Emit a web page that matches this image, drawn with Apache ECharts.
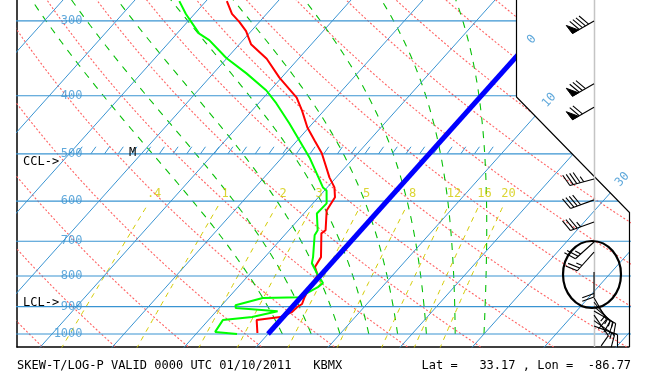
<!DOCTYPE html>
<html><head><meta charset="utf-8">
<script src="https://cdn.jsdelivr.net/npm/echarts@6/dist/echarts.min.js"></script>
<style>html,body{margin:0;padding:0;background:#fff}#c{width:664px;height:382px}</style>
</head><body><div id="c"></div>
<script>
// ---------------- data ----------------
const isobarP = [300, 400, 500, 600, 700, 800, 900, 1000];
const isobarLabels = ['300', '400', '500', '600', '700', '800', '900', '1000'];

// temperature sounding (hPa, degC), surface upward
const tempP = [996, 948, 937, 919, 902, 891, 868, 855, 798, 773, 744, 679, 671, 622, 591, 569, 548, 499, 475, 452, 424, 403, 373, 347, 328, 312, 301, 292, 278];
const tempT = [-1.6, -3.3, -0.4, 0.6, 0.7, 1.0, 0.5, 0.3, -0.4, -1.8, -2.2, -5.1, -4.9, -7.2, -7.7, -9.0, -10.9, -15.0, -17.6, -20.2, -23.0, -25.4, -30.3, -34.4, -38.4, -40.7, -42.8, -44.8, -47.1];

// dewpoint sounding (hPa, degC)
const dewP = [1000, 992, 948, 937, 916, 905, 895, 871, 868, 835, 822, 791, 762, 744, 684, 671, 629, 605, 576, 569, 507, 475, 445, 412, 392, 367, 346, 323, 315, 292, 278];
const dewT = [-4.3, -7.6, -8.0, -4.3, -1.5, -7.7, -8.1, -5.2, -0.2, 1.1, 1.3, -0.8, -2.7, -3.3, -5.8, -6.0, -8.2, -8.1, -9.7, -10.6, -16.2, -19.7, -23.2, -27.5, -30.5, -35.4, -40.1, -44.7, -46.9, -51.2, -53.7];

// wind barbs (hPa, direction deg, speed kt)
const windP   = [300, 382, 418, 551, 597, 650, 702, 730, 788, 870, 885, 900, 915, 930, 950, 970];
const windDir = [240, 240, 240, 255, 250, 250, 228, 222, 180, 150, 140, 130, 120, 145, 125, 110];
const windSpd = [90, 80, 70, 45, 40, 35, 25, 25, 20, 15, 15, 15, 15, 10, 15, 10];

const isothermTemps = [];
for (let t = -110; t <= 50; t += 10) isothermTemps.push(t);
const dryThetas = [];
for (let th = 230; th <= 400; th += 10) dryThetas.push(th);
const moistThetaW = [2, 6, 10, 14, 18, 22, 26, 30];
const mixRatios = [0.4, 1, 2, 3, 5, 8, 12, 16, 20];
const mixLabels = ['.4', '1', '2', '3', '5', '8', '12', '16', '20'];
const isothermLabelT = [0, 10, 30];
const isothermLabelP = [322, 407, 552];
const isothermLabelText = ['0', '10', '30'];

// ---------------- geometry of the skew-T ----------------
const S = 32.33;                        // skew (degC per ln-p unit)
const Yp = p => Math.log(1000 / p);
const sk = (p, T) => [T + S * Yp(p), Yp(p)];
const xMin = -34.86, xMax = 50.14, yMin = -0.05, yMax = 1.2846;
const barbX = 45.28, isobarLabelX = -25.69;

function es(Tc) { return 6.112 * Math.exp(17.67 * Tc / (Tc + 243.5)); }
function moistGrad(p, TK) {
  const e = es(TK - 273.15), rs = 0.622 * e / (p - e);
  return (287.04 * TK + 2.501e6 * rs) / (1005.7 + 2.501e6 * 2.501e6 * rs * 0.622 / (287.04 * TK * TK)) / p;
}
function moistLine(tw) {
  let p = 1000, T = tw + 273.15; const out = [sk(p, T - 273.15)];
  const dp = -5;
  while (p > 270) {
    const k1 = moistGrad(p, T);
    const k2 = moistGrad(p + dp, T + k1 * dp);
    T += 0.5 * (k1 + k2) * dp; p += dp;
    out.push(sk(p, T - 273.15));
  }
  return out;
}
function dryLine(th) {
  const out = [];
  for (let p = 1060; p >= 270; p -= 10) out.push(sk(p, th * Math.pow(p / 1000, 0.2857) - 273.15));
  return out;
}
function mixTd(w, p) {
  const e = (w / 1000) * p / (0.622 + w / 1000);
  const l = Math.log(e / 6.112);
  return 243.5 * l / (17.67 - l);
}
function mixLine(w) {
  const out = [];
  for (let p = 1060; p >= 610; p -= 10) out.push(sk(p, mixTd(w, p)));
  return out;
}

const series = [];
function ln(data, color, width, type, z) {
  series.push({ type: 'line', data, symbol: 'none', silent: true, animation: false, z: z || 2, clip: true,
    lineStyle: { color, width, type: type || 'solid' } });
}
const BLUE = '#3a94d2';
isobarP.forEach(p => ln([[xMin - 5, Yp(p)], [xMax + 5, Yp(p)]], BLUE, 1.2, 'solid', 3));
isothermTemps.forEach(t => ln([sk(1060, t), sk(270, t)], BLUE, 1, 'solid', 3));
dryThetas.forEach(th => ln(dryLine(th), '#ff6262', 1.1, [2, 2], 2));
moistThetaW.forEach(tw => ln(moistLine(tw), '#08c008', 1.1, [7, 7], 2));
mixRatios.forEach(w => ln(mixLine(w), '#d2ca00', 1, [5, 5], 2));
ln(tempP.map((p, i) => sk(p, tempT[i])), '#ff0000', 2, 'solid', 6);
ln(dewP.map((p, i) => sk(p, dewT[i])), '#00ff00', 2, 'solid', 6);
ln([sk(1000, 0), sk(270, 0)], '#0000ff', 5, 'solid', 7);

// hatch along 500 hPa
series.push({ type: 'custom', silent: true, animation: false, z: 4, clip: true,
  data: [[-26.5, Yp(500), 30.6]],
  renderItem: function (params, api) {
    const a = api.coord([api.value(0), api.value(1)]), b = api.coord([api.value(2), api.value(1)]);
    const ch = [];
    for (let x = a[0]; x <= b[0]; x += 13.7) ch.push({ type: 'line', shape: { x1: x, y1: a[1], x2: x + 5, y2: a[1] - 7 }, style: { stroke: BLUE, lineWidth: 1 } });
    return { type: 'group', children: ch };
  } });

// isobar labels
series.push({ type: 'scatter', silent: true, animation: false, z: 8, symbolSize: 1, itemStyle: { color: 'rgba(0,0,0,0)' },
  data: isobarP.map(p => [isobarLabelX, Yp(p)]),
  label: { show: true, position: 'left', distance: 0, formatter: p => isobarLabels[p.dataIndex],
    color: BLUE, fontFamily: 'DejaVu Sans Mono', fontSize: 12 } });
// mixing ratio labels
series.push({ type: 'scatter', silent: true, animation: false, z: 8, symbolSize: 1, itemStyle: { color: 'rgba(0,0,0,0)' },
  data: mixRatios.map(w => sk(584, mixTd(w, 584))),
  label: { show: true, position: 'inside', formatter: p => mixLabels[p.dataIndex],
    color: '#d2ca00', fontFamily: 'DejaVu Sans Mono', fontSize: 12 } });
// isotherm labels (outside frame)
series.push({ type: 'scatter', silent: true, animation: false, z: 60, clip: false, symbolSize: 1, itemStyle: { color: 'rgba(0,0,0,0)' },
  data: isothermLabelT.map((t, i) => sk(isothermLabelP[i], t)),
  label: { show: true, position: 'inside', rotate: 48, formatter: p => isothermLabelText[p.dataIndex],
    color: BLUE, fontFamily: 'DejaVu Sans Mono', fontSize: 12 } });

// wind barbs
series.push({ type: 'custom', silent: true, animation: false, z: 60, clip: false,
  data: windP.map((p, i) => [barbX, Yp(p), windDir[i], windSpd[i]]),
  renderItem: function (params, api) {
    const o = api.coord([api.value(0), api.value(1)]);
    const r = api.value(2) * Math.PI / 180, spd = api.value(3);
    const sx = Math.sin(r), sy = -Math.cos(r), qx = -sy, qy = sx;
    const L = 25, F = 12.5, G = 3.6;
    const tip = [o[0] + sx * L, o[1] + sy * L];
    const st = { stroke: '#000', lineWidth: 1.1 };
    const ch = [{ type: 'line', shape: { x1: o[0], y1: o[1], x2: tip[0], y2: tip[1] }, style: st }];
    const n50 = Math.floor(spd / 50); let rem = spd - n50 * 50;
    const n10 = Math.floor(rem / 10); const n5 = (rem - n10 * 10) >= 5 ? 1 : 0;
    let k = 0;
    const pt = d => [tip[0] - sx * d, tip[1] - sy * d];
    for (let i = 0; i < n50; i++) {
      const a = pt(k), b = pt(k + 7);
      const c = [a[0] + qx * F * 0.8 + sx * F * 0.1, a[1] + qy * F * 0.8 + sy * F * 0.1];
      ch.push({ type: 'polygon', shape: { points: [a, b, c] }, style: { fill: '#000', stroke: '#000', lineWidth: 1 } });
      k += 8;
    }
    for (let i = 0; i < n10; i++) {
      const a = pt(k);
      ch.push({ type: 'line', shape: { x1: a[0], y1: a[1], x2: a[0] + (qx * 0.94 + sx * 0.34) * F, y2: a[1] + (qy * 0.94 + sy * 0.34) * F }, style: st });
      k += G;
    }
    if (n5) {
      if (k === 0) k = G;
      const a = pt(k);
      ch.push({ type: 'line', shape: { x1: a[0], y1: a[1], x2: a[0] + (qx * 0.94 + sx * 0.34) * F * 0.5, y2: a[1] + (qy * 0.94 + sy * 0.34) * F * 0.5 }, style: st });
    }
    return { type: 'group', children: ch };
  } });

const chart = echarts.init(document.getElementById('c'), null, { renderer: 'canvas' });
chart.setOption({
  animation: false,
  backgroundColor: '#fff',
  title: { text: 'SKEW-T/LOG-P VALID 0000 UTC 01/10/2011   KBMX           Lat =   33.17 , Lon =  -86.77',
    left: 17, top: 360, padding: 0,
    textStyle: { fontFamily: 'DejaVu Sans Mono', fontSize: 12, fontWeight: 'normal', color: '#000' } },
  grid: { left: 17, top: 0, width: 612, height: 347, show: false },
  xAxis: { type: 'value', min: xMin, max: xMax, axisLine: { show: true, onZero: false, lineStyle: { color: '#000', width: 1.5 } },
    axisTick: { show: false }, axisLabel: { show: false }, splitLine: { show: false } },
  yAxis: { type: 'value', min: yMin, max: yMax, axisLine: { show: true, onZero: false, lineStyle: { color: '#000', width: 1.5 } },
    axisTick: { show: false }, axisLabel: { show: false }, splitLine: { show: false } },
  series,
  graphic: [
    { type: 'polygon', z: 50, silent: true, shape: { points: [[517, -2], [666, -2], [666, 212], [629, 212], [517, 97]] }, style: { fill: '#fff' } },
    { type: 'polyline', z: 51, silent: true, shape: { points: [[516.5, 0], [516.5, 97], [629.5, 212.5], [629.5, 347]] }, style: { stroke: '#000', lineWidth: 1.2, fill: null } },
    { type: 'line', z: 52, silent: true, shape: { x1: 594.5, y1: 0, x2: 594.5, y2: 347 }, style: { stroke: '#c4c4c4', lineWidth: 1.5 } },
    { type: 'ellipse', z: 61, silent: true, shape: { cx: 592, cy: 274.5, rx: 29, ry: 33.5 }, style: { stroke: '#000', lineWidth: 2.2, fill: null } },
    { type: 'text', z: 61, silent: true, left: 23, top: 156, style: { text: 'CCL->', fill: '#000', font: '12px "DejaVu Sans Mono"' } },
    { type: 'text', z: 61, silent: true, left: 23, top: 297, style: { text: 'LCL->', fill: '#000', font: '12px "DejaVu Sans Mono"' } },
    { type: 'text', z: 61, silent: true, left: 129, top: 147, style: { text: 'M', fill: '#000', font: '12px "DejaVu Sans Mono"' } }
  ]
});
</script></body></html>
